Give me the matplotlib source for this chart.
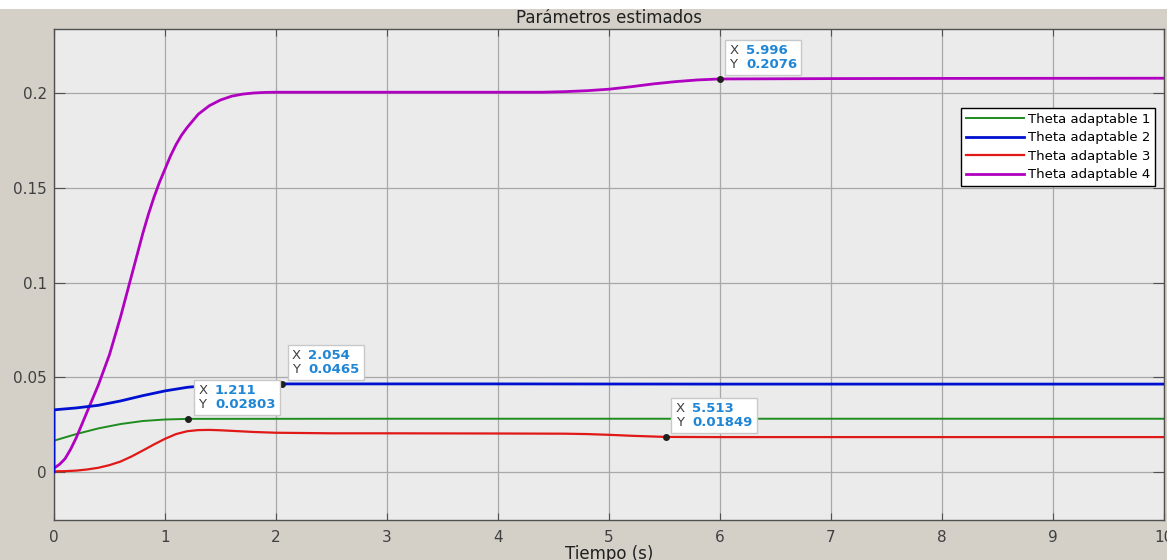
import matplotlib
matplotlib.use("Agg")
from matplotlib import pyplot as plt
from matplotlib.patches import Rectangle
from matplotlib.offsetbox import AnnotationBbox, HPacker, TextArea

# datos
t_theta1 = [0, 0.2, 0.4, 0.6, 0.8, 1.0, 1.211, 3, 6, 10]
theta1 = [0.0165, 0.0200, 0.0230, 0.0253, 0.0269, 0.0277, 0.02803, 0.0281, 0.0281, 0.0281]

t_theta2 = [0, 0, 0.2, 0.4, 0.6, 0.8, 1.0, 1.2, 1.4, 1.6, 1.8, 2.054, 4, 6, 8, 10]
theta2 = [0, 0.0328, 0.0338, 0.0352, 0.0375, 0.0403, 0.0428, 0.0447, 0.0458, 0.0463,
          0.0465, 0.0465, 0.0465, 0.0464, 0.0464, 0.0464]

t_theta3 = [0, 0.1, 0.2, 0.3, 0.4, 0.5, 0.6, 0.7, 0.8, 0.9, 1.0, 1.1, 1.2, 1.3, 1.4,
            1.5, 1.6, 1.8, 2.0, 2.5, 3, 4, 4.6, 4.8, 5.0, 5.2, 5.4, 5.513, 6, 10]
theta3 = [0.0003, 0.0004, 0.0007, 0.0013, 0.0022, 0.0036, 0.0055, 0.0082, 0.0113,
          0.0145, 0.0175, 0.0200, 0.0215, 0.0221, 0.0222, 0.0220, 0.0217, 0.0211,
          0.0207, 0.0204, 0.0204, 0.0203, 0.0202, 0.0200, 0.0196, 0.0191, 0.0187,
          0.01849, 0.0184, 0.0184]

t_theta4 = [0, 0.05, 0.1, 0.15, 0.2, 0.25, 0.3, 0.35, 0.4, 0.45, 0.5, 0.55, 0.6, 0.65,
            0.7, 0.75, 0.8, 0.85, 0.9, 0.95, 1.0, 1.05, 1.1, 1.15, 1.2, 1.3, 1.4, 1.5,
            1.6, 1.7, 1.8, 1.9, 2.0, 3.0, 4.0, 4.4, 4.6, 4.8, 5.0, 5.2, 5.4, 5.6, 5.8,
            5.996, 7, 8, 10]
theta4 = [0.002, 0.004, 0.007, 0.012, 0.018, 0.025, 0.032, 0.039, 0.046, 0.054, 0.062,
          0.072, 0.082, 0.093, 0.104, 0.115, 0.126, 0.136, 0.145, 0.153, 0.160, 0.167,
          0.173, 0.178, 0.182, 0.189, 0.1935, 0.1965, 0.1985, 0.1996, 0.2002, 0.2005,
          0.2006, 0.2006, 0.2006, 0.2006, 0.2009, 0.2014, 0.2022, 0.2035, 0.2050,
          0.2062, 0.2071, 0.2076, 0.2078, 0.2079, 0.2080]

labels = ['Theta adaptable 1', 'Theta adaptable 2', 'Theta adaptable 3', 'Theta adaptable 4']

# datatips
tip_x = ['1.211', '2.054', '5.513', '5.996']
tip_y = ['0.02803', '0.0465', '0.01849', '0.2076']

x_ticks = [0, 1, 2, 3, 4, 5, 6, 7, 8, 9, 10]
y_ticks = [0, 0.05, 0.1, 0.15, 0.2]
y_tick_labels = ['0', '0.05', '0.1', '0.15', '0.2']

fondo = '#d4d0c8'
txt_gris = '#404040'

fig = plt.figure(figsize=(11.67, 5.6), dpi=100, facecolor=fondo)
fig.patches.append(Rectangle((0, 1 - 9 / 560), 1, 9 / 560, transform=fig.transFigure,
                             facecolor='white', edgecolor='none', zorder=0))
ax = fig.add_axes([54 / 1167, 40 / 560, 1110 / 1167, 491 / 560])
ax.set_facecolor('#ebebeb')

ax.plot(t_theta1, theta1, color='#1e8c1e', lw=1.4, label=labels[0])
ax.plot(t_theta2, theta2, color='#0010d0', lw=2.0, label=labels[1], zorder=3)
ax.plot(t_theta3, theta3, color='#e01818', lw=1.6, label=labels[2])
ax.plot(t_theta4, theta4, color='#b000c0', lw=2.0, label=labels[3])

ax.set_xlim(0, 10)
ax.set_ylim(-0.0254, 0.234)
ax.set_xticks(x_ticks)
ax.set_yticks(y_ticks)
ax.set_yticklabels(y_tick_labels)
ax.grid(True, color='#a8a8a8', lw=0.9)
ax.set_axisbelow(True)
for s in ax.spines.values():
    s.set_color('#505050')
    s.set_linewidth(1.0)
ax.tick_params(axis='both', direction='in', colors='#505050', labelcolor=txt_gris,
               labelsize=11, top=True, right=True)
ax.tick_params(axis='y', length=8, pad=5)
ax.tick_params(axis='x', length=5, pad=7)

ax.set_title('Parámetros estimados', fontsize=12, color='#202020', pad=4)
ax.set_xlabel('Tiempo (s)', fontsize=12, color='#202020', labelpad=0)

leg = ax.legend(loc='upper right', bbox_to_anchor=(0.992, 0.839), borderaxespad=0,
                fontsize=9.5, fancybox=False, framealpha=1, edgecolor='black',
                handlelength=4.4, handletextpad=0.3, labelspacing=0.42,
                borderpad=0.35)
leg.get_frame().set_linewidth(1.0)

# datatips estilo MATLAB
for xs, ys in zip(tip_x, tip_y):
    tx, ty = float(xs), float(ys)
    ax.plot(tx, ty, 'o', color='#202020', ms=4, zorder=6)
    nombres = TextArea('X\nY', textprops=dict(fontsize=9.5, color=txt_gris,
                                              linespacing=1.1))
    valores = TextArea(f'{xs}\n{ys}', textprops=dict(fontsize=9.5, color='#1f86d6',
                                                     fontweight='bold', linespacing=1.1))
    caja = HPacker(children=[nombres, valores], align='top', pad=0, sep=5.5)
    ab = AnnotationBbox(caja, (tx, ty), xybox=(7, 5.5), boxcoords='offset points',
                        box_alignment=(0, 0), pad=0.4, frameon=True,
                        bboxprops=dict(boxstyle='square', fc='white', ec='#c8c8c8',
                                       lw=1))
    ab.set_zorder(7)
    ax.add_artist(ab)

fig.savefig('out.png', dpi=100, facecolor=fondo)
